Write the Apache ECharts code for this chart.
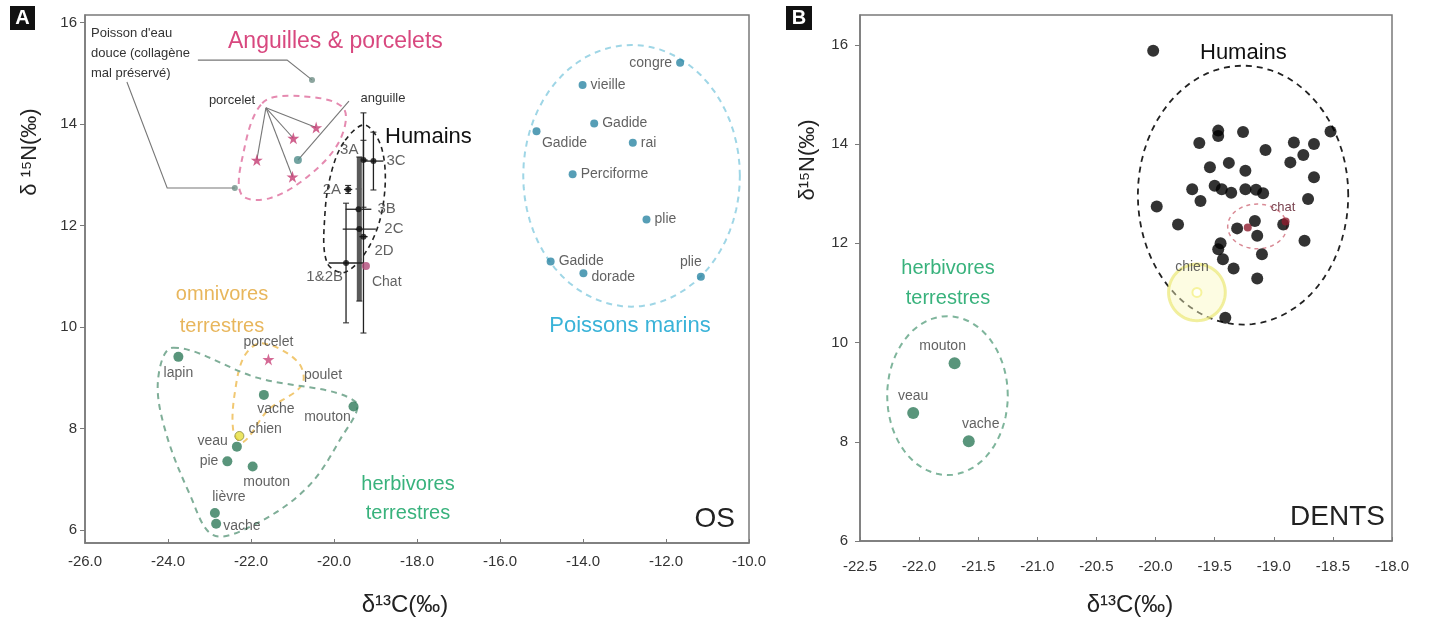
<!DOCTYPE html>
<html><head><meta charset="utf-8">
<script src="https://cdn.jsdelivr.net/npm/echarts@6/dist/echarts.min.js"></script>
<style>html,body{margin:0;padding:0;background:#fff}#c{width:1429px;height:626px}</style>
</head><body><div id="c"></div>
<script>
// ================= DATA : panel A (OS) =================
const yTicksA = [6, 8, 10, 12, 14, 16];
const yTicksB = [6, 8, 10, 12, 14, 16];
// marine fish  [d13C, d15N]
const marineNames = ['congre','vieille','Gadide','Gadide','rai','Perciforme','plie','Gadide','dorade','plie'];
const marinePts = [[-11.66,15.21],[-14.01,14.77],[-13.73,14.01],[-15.12,13.86],[-12.80,13.63],[-14.25,13.01],[-12.47,12.12],[-14.78,11.29],[-13.99,11.06],[-11.16,10.99]];
// freshwater fish (poorly preserved collagen)
const freshFishPts = [[-20.53,14.87],[-22.39,12.74]];
// eel & piglets
const porceletStarsA = [[-21.86,13.29],[-20.98,13.72],[-20.43,13.93],[-21.00,12.96]];
const anguillePts = [[-20.87,13.29]];
// human groups (mean +/- sd)
const humanGroups = ['3A','3C','2A','3B','2C','2D','1&2B'];
const humanC   = [-19.29,-19.05,-19.66,-19.41,-19.39,-19.29,-19.71];
const humanN   = [13.29, 13.27, 12.71, 12.32, 11.93, 11.78, 11.26];
const humanSdC = [0.10, 0.24, 0.10, 0.31, 0.40, 0.10, 0.42];
const humanSdN = [0.93, 0.57, 0.08, 0.40, 1.42, 1.90, 1.18];
const chatA = [[-19.23,11.20]];
// terrestrial
const herbNamesA = ['lapin','vache','mouton','veau','pie','mouton','lièvre','vache'];
const herbPtsA = [[-23.75,9.41],[-21.69,8.66],[-19.53,8.43],[-22.34,7.64],[-22.57,7.35],[-21.96,7.25],[-22.87,6.33],[-22.84,6.12]];
const porceletTerrA = [[-21.58,9.36]];
const pouletA = [[-20.94,9.05]];
const chienA = [[-22.28,7.85]];

// ================= DATA : panel B (DENTS) =================
const humainsB = [[-20.02,15.88],[-19.47,14.27],[-19.47,14.16],[-19.26,14.24],[-19.63,14.02],[-19.07,13.88],[-18.83,14.03],[-18.66,14.00],[-18.75,13.78],[-18.86,13.63],[-18.52,14.25],[-19.54,13.53],[-19.38,13.62],[-19.24,13.46],[-18.66,13.33],[-19.69,13.09],[-19.62,12.85],[-19.50,13.16],[-19.44,13.09],[-19.36,13.02],[-19.24,13.09],[-19.15,13.08],[-19.09,13.01],[-18.71,12.89],[-19.99,12.74],[-19.81,12.38],[-19.31,12.30],[-19.16,12.45],[-19.14,12.15],[-18.92,12.38],[-18.74,12.05],[-19.45,12.00],[-19.47,11.88],[-19.10,11.78],[-19.43,11.68],[-19.34,11.49],[-19.14,11.29],[-19.41,10.50]];
const chatB = [[-19.22,12.32],[-18.90,12.44]];
const chienB = [[-19.65,11.01]];
const herbNamesB = ['mouton','veau','vache'];
const herbPtsB = [[-21.70,9.58],[-22.05,8.58],[-21.58,8.01]];

// ================= group outlines (data units) =================
const outlinePink = [[-21.73,14.41],[-20.82,14.55],[-19.78,14.32],[-19.86,13.68],[-20.58,13.00],[-21.54,12.54],[-22.22,12.60],[-22.22,13.29]];
const outlineHumA = [[-19.73,13.68],[-19.25,13.98],[-18.84,13.49],[-18.80,12.50],[-19.13,11.62],[-19.73,11.08],[-20.17,11.27],[-20.22,12.21],[-20.05,13.09]];
const outlineOmni = [[-21.73,9.68],[-20.87,9.31],[-20.77,8.86],[-21.59,8.36],[-22.19,7.73],[-22.43,7.97],[-22.36,8.86],[-22.14,9.45]];
const outlineHerbA = [[-23.88,9.59],[-21.86,9.00],[-19.49,8.53],[-19.86,7.77],[-20.70,6.79],[-22.02,6.06],[-22.92,5.90],[-23.47,6.69],[-24.07,7.97],[-24.24,8.96]];
const ellMarine = {c:[-12.83,12.98], r:[2.61,2.58]};
const ellHumB   = {c:[-19.26,12.97], r:[0.89,2.61]};
const ellHerbB  = {c:[-21.76,8.93],  r:[0.51,1.60]};
const ellChatB  = {c:[-19.14,12.34], r:[0.25,0.45]};
const ellChienB = {c:[-19.65,11.01], r:[0.24,0.57]};
// callout leader lines (data units, ending on data points)
const calloutsA = [
  [[-23.28,15.26],[-21.13,15.26], freshFishPts[0]],
  [[-24.99,14.83],[-24.02,12.74], freshFishPts[1]],
  [[-21.64,14.32], porceletStarsA[0]],
  [[-21.64,14.32], porceletStarsA[1]],
  [[-21.64,14.32], porceletStarsA[2]],
  [[-21.64,14.32], porceletStarsA[3]],
  [[-19.64,14.45], anguillePts[0]]
];

// ================= styling =================
const FF = "'Liberation Sans', Arial, 'DejaVu Sans', sans-serif";
const AX = '#7a7a7a';
const thickBars = ['2C'];

function ellipsePts(e){ const out=[]; for(let k=0;k<72;k++){const t=k/72*2*Math.PI; out.push([e.c[0]+e.r[0]*Math.cos(t), e.c[1]+e.r[1]*Math.sin(t)]);} return out; }
function outline(points, gi, stroke, opts){
  opts = opts || {};
  return {type:'custom', xAxisIndex:gi, yAxisIndex:gi, silent:true, z:1, clip:false,
    data:[points[0]],
    renderItem:(params, api)=>{
      const p = points.map(d=>api.coord(d));
      return {type:'polygon', shape:{points:p, smooth: opts.smooth==null?0.35:opts.smooth},
        style:{fill: opts.fill||'none', stroke: stroke, lineWidth: opts.width||2, lineDash: opts.dash===undefined?[6,5]:opts.dash}};
    }};
}
function lbl(pos, off, extra){ return Object.assign({show:true, position:pos, offset:off||[0,0], formatter:'{b}', fontSize:14, color:'#3a3a3a', fontFamily:FF, distance:4}, extra||{}); }
function named(pts, names, labels){ return pts.map((p,i)=>({value:p, name:names?names[i]:'', label:labels?labels[i]:{show:false}})); }

const marineLabels = [lbl('left'),lbl('right'),lbl('right'),lbl('bottom',[28,-3]),lbl('right'),lbl('right'),lbl('right'),lbl('right'),lbl('right',[0,4]),lbl('top',[-10,0])];
const herbLabelsA = [lbl('bottom'),lbl('bottom',[12,-2]),lbl('bottom',[-26,-5]),lbl('left',[0,-5]),lbl('left'),lbl('bottom',[14,0]),lbl('top',[14,0]),lbl('right',[-2,2])];
const humanLabels = [lbl('left',[2,-10],{fontSize:15}),lbl('right',[6,0],{fontSize:15}),lbl('left',[0,0],{fontSize:15}),lbl('right',[12,0],{fontSize:15}),lbl('right',[18,0],{fontSize:15}),lbl('right',[4,14],{fontSize:15}),lbl('left',[4,14],{fontSize:15})];
const herbLabelsB = [lbl('top',[-12,0]),lbl('top'),lbl('top',[12,0])];

const chart = echarts.init(document.getElementById('c'), null, {renderer:'canvas'});

function xAxisCfg(gi,min,max,iv){
  return {gridIndex:gi, type:'value', min:min, max:max, interval:iv,
    axisLine:{onZero:false, lineStyle:{color:AX, width:1.5}},
    axisTick:{inside:true, length:4, lineStyle:{color:AX}},
    axisLabel:{formatter:v=>v.toFixed(1), fontSize:15, color:'#333', fontFamily:FF, margin: gi===0?11:18},
    splitLine:{show:false}};
}
function yAxisCfg(gi,min,max,ticks){
  return {gridIndex:gi, type:'value', min:min, max:max,
    axisLine:{onZero:false, lineStyle:{color:AX, width:1.5}},
    axisTick:{show:true, length:5, customValues:ticks, lineStyle:{color:AX}},
    axisLabel:{customValues:ticks, fontSize:15, color:'#333', fontFamily:FF, margin: gi===0?8:12},
    splitLine:{show:false}};
}

const series = [
  // ---- outlines A
  outline(outlinePink, 0, '#e58ab0'),
  outline(outlineHumA, 0, '#222', {width:1.6, dash:[5,4]}),
  outline(outlineOmni, 0, '#f1c872'),
  outline(outlineHerbA, 0, '#7fae98'),
  outline(ellipsePts(ellMarine), 0, '#9fd6e6', {smooth:0}),
  // ---- callouts A
  {type:'custom', xAxisIndex:0, yAxisIndex:0, silent:true, z:2,
   data: calloutsA.map(c=>c[0]),
   renderItem:(params, api)=>{
     const c = calloutsA[params.dataIndex];
     return {type:'polyline', shape:{points:c.map(d=>api.coord(d))}, style:{stroke:'#777', lineWidth:1.1, fill:'none'}};
   }},
  // ---- human error bars A
  {type:'custom', xAxisIndex:0, yAxisIndex:0, silent:true, z:2,
   data: humanC.map((c,i)=>[c, humanN[i]]),
   renderItem:(params, api)=>{
     const i = params.dataIndex;
     const t = api.coord([humanC[i], humanN[i]+humanSdN[i]]), b = api.coord([humanC[i], humanN[i]-humanSdN[i]]);
     const l = api.coord([humanC[i]-humanSdC[i], humanN[i]]), r = api.coord([humanC[i]+humanSdC[i], humanN[i]]);
     const thick = thickBars.indexOf(humanGroups[i])>=0;
     return {type:'group', children:[
       {type:'line', shape:{x1:t[0],y1:t[1],x2:b[0],y2:b[1]}, style:{stroke: thick?'#5a5a5a':'#222', lineWidth: thick?5:1.3}},
       {type:'line', shape:{x1:t[0]-3,y1:t[1],x2:t[0]+3,y2:t[1]}, style:{stroke:'#222', lineWidth:1}},
       {type:'line', shape:{x1:b[0]-3,y1:b[1],x2:b[0]+3,y2:b[1]}, style:{stroke:'#222', lineWidth:1}},
       {type:'line', shape:{x1:l[0],y1:l[1],x2:r[0],y2:r[1]}, style:{stroke:'#222', lineWidth:1.3}}
     ]};
   }},
  // ---- points A
  {type:'scatter', xAxisIndex:0, yAxisIndex:0, z:4, symbolSize:8, itemStyle:{color:'#2c86a4'},
   data: named(marinePts, marineNames, marineLabels)},
  {type:'scatter', xAxisIndex:0, yAxisIndex:0, z:4, symbolSize:6, itemStyle:{color:'#6f8f86'}, data: named(freshFishPts)},
  {type:'scatter', xAxisIndex:0, yAxisIndex:0, z:4, symbolSize:8, itemStyle:{color:'#4f8c8a'}, data: named(anguillePts)},
  {type:'scatter', xAxisIndex:0, yAxisIndex:0, z:4, symbolSize:12, symbol:'path://M50,0 L61,35 L98,35 L68,57 L79,91 L50,70 L21,91 L32,57 L2,35 L39,35 Z',
   itemStyle:{color:'#c43b72'}, data: named(porceletStarsA)},
  {type:'scatter', xAxisIndex:0, yAxisIndex:0, z:5, symbolSize:6, itemStyle:{color:'#111'},
   data: named(humanC.map((c,i)=>[c, humanN[i]]), humanGroups, humanLabels)},
  {type:'scatter', xAxisIndex:0, yAxisIndex:0, z:5, symbolSize:8, itemStyle:{color:'#b04a78'},
   data: named(chatA, ['Chat'], [lbl('right',[-2,16],{fontSize:14})])},
  {type:'scatter', xAxisIndex:0, yAxisIndex:0, z:4, symbolSize:10, itemStyle:{color:'#2f7b5a'},
   data: named(herbPtsA, herbNamesA, herbLabelsA)},
  {type:'scatter', xAxisIndex:0, yAxisIndex:0, z:5, symbolSize:12, symbol:'path://M50,0 L61,35 L98,35 L68,57 L79,91 L50,70 L21,91 L32,57 L2,35 L39,35 Z',
   itemStyle:{color:'#c9457a'}, data: named(porceletTerrA, ['porcelet'], [lbl('top')])},
  {type:'scatter', xAxisIndex:0, yAxisIndex:0, z:5, symbolSize:8, symbol:'emptyCircle', itemStyle:{color:'#fff', borderColor:'#d6c63c', borderWidth:2},
   data: named(pouletA, ['poulet'], [lbl('right')])},
  {type:'scatter', xAxisIndex:0, yAxisIndex:0, z:6, symbolSize:9, itemStyle:{color:'#e6df3c', borderColor:'#8a8a40', borderWidth:1},
   data: named(chienA, ['chien'], [lbl('right',[0,-7])])},

  // ---- panel B outlines
  outline(ellipsePts(ellHumB), 1, '#222', {smooth:0, dash:[6,5], width:1.8}),
  outline(ellipsePts(ellHerbB), 1, '#7fb59c', {smooth:0}),
  outline(ellipsePts(ellChienB), 1, 'rgba(235,232,120,0.7)', {smooth:0, dash:null, width:3, fill:'rgba(250,248,190,0.45)'}),
  outline(ellipsePts(ellChatB), 1, '#d98a95', {smooth:0, dash:[4,4], width:1.5}),
  // ---- panel B points
  {type:'scatter', xAxisIndex:1, yAxisIndex:1, z:4, symbolSize:12, itemStyle:{color:'#000'}, data: named(humainsB)},
  {type:'scatter', xAxisIndex:1, yAxisIndex:1, z:5, symbolSize:8, itemStyle:{color:'#8e1b2d'}, data: named(chatB)},
  {type:'scatter', xAxisIndex:1, yAxisIndex:1, z:5, symbolSize:9, symbol:'emptyCircle', itemStyle:{color:'#f4f08a', borderColor:'#b8ad1a', borderWidth:2},
   data: named(chienB, ['chien'], [lbl('top',[-5,-9])])},
  {type:'scatter', xAxisIndex:1, yAxisIndex:1, z:4, symbolSize:12, itemStyle:{color:'#2f7b5a'},
   data: named(herbPtsB, herbNamesB, herbLabelsB)}
];

function txt(x, y, text, font, color, align, extra){
  return Object.assign({type:'text', x:x, y:y, z:100, silent:true,
    style:{text:text, font:font, fill:color, align:align||'left', verticalAlign:'middle', textAlign:align||'left', textVerticalAlign:'middle'}}, extra||{});
}

const graphic = [
  {type:'rect', shape:{x:10, y:6, width:25, height:24}, style:{fill:'#111'}, z:100},
  txt(22.5, 18.5, 'A', 'bold 20px '+FF, '#fff', 'center'),
  {type:'rect', shape:{x:786, y:6, width:26, height:24}, style:{fill:'#111'}, z:100},
  txt(799, 18.5, 'B', 'bold 20px '+FF, '#fff', 'center'),
  // axis titles
  txt(405, 605, 'δ¹³C(‰)', '24px '+FF, '#222', 'center'),
  txt(1130, 605, 'δ¹³C(‰)', '24px '+FF, '#222', 'center'),
  txt(30, 152, 'δ ¹⁵N(‰)', '22px '+FF, '#222', 'center', {rotation:Math.PI/2}),
  txt(808, 160, 'δ¹⁵N(‰)', '22px '+FF, '#222', 'center', {rotation:Math.PI/2}),
  // panel A annotations
  txt(91, 33, "Poisson d'eau", '13px '+FF, '#333'),
  txt(91, 53, 'douce (collagène', '13px '+FF, '#333'),
  txt(91, 73, 'mal préservé)', '13px '+FF, '#333'),
  txt(228, 42, 'Anguilles & porcelets', '23px '+FF, '#d8487f'),
  txt(232, 100, 'porcelet', '13px '+FF, '#333', 'center'),
  txt(383, 98, 'anguille', '13px '+FF, '#333', 'center'),
  txt(385, 137, 'Humains', '22px '+FF, '#111'),
  txt(630, 326, 'Poissons marins', '22px '+FF, '#3ab3d8', 'center'),
  txt(222, 294, 'omnivores', '20px '+FF, '#e8b65c', 'center'),
  txt(222, 326, 'terrestres', '20px '+FF, '#e8b65c', 'center'),
  txt(408, 484, 'herbivores', '20px '+FF, '#38b27c', 'center'),
  txt(408, 513, 'terrestres', '20px '+FF, '#38b27c', 'center'),
  txt(735, 519, 'OS', '28px '+FF, '#222', 'right'),
  // panel B annotations
  txt(1200, 53, 'Humains', '22px '+FF, '#111'),
  txt(948, 268, 'herbivores', '20px '+FF, '#38b27c', 'center'),
  txt(948, 298, 'terrestres', '20px '+FF, '#38b27c', 'center'),
  txt(1283, 207, 'chat', '13px '+FF, '#7a4450', 'center'),
  txt(1385, 517, 'DENTS', '28px '+FF, '#222', 'right')
];

chart.setOption({
  animation:false,
  backgroundColor:'#fff',
  grid:[
    {left:85, top:15, width:664, height:528, show:true, borderColor:AX, borderWidth:1.5, backgroundColor:'transparent'},
    {left:860, top:15, width:532, height:526, show:true, borderColor:AX, borderWidth:1.5, backgroundColor:'transparent'}
  ],
  xAxis:[xAxisCfg(0,-26,-10,2), xAxisCfg(1,-22.5,-18,0.5)],
  yAxis:[yAxisCfg(0,5.74,16.15,yTicksA), yAxisCfg(1,6,16.6,yTicksB)],
  series: series,
  graphic: graphic
});
</script></body></html>
